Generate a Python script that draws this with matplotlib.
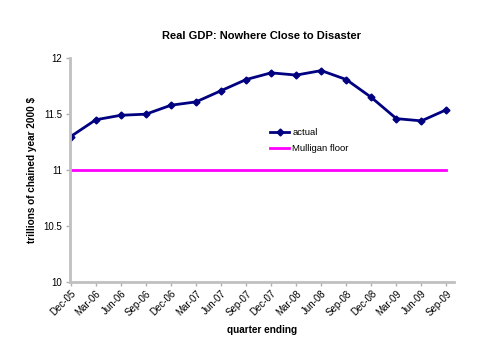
import numpy as np
import matplotlib.pyplot as plt

plt.rcParams['font.family'] = ['Liberation Sans', 'DejaVu Sans']

quarters = ["Dec-05", "Mar-06", "Jun-06", "Sep-06", "Dec-06", "Mar-07", "Jun-07", "Sep-07",
            "Dec-07", "Mar-08", "Jun-08", "Sep-08", "Dec-08", "Mar-09", "Jun-09", "Sep-09"]
actual = [11.30, 11.45, 11.49, 11.50, 11.58, 11.61, 11.71, 11.81,
          11.87, 11.85, 11.89, 11.81, 11.65, 11.46, 11.44, 11.54]
mulligan_floor = [11.0] * len(quarters)

fig = plt.figure(figsize=(5, 3.6), dpi=100)
ax = fig.add_axes([0.139, 0.2175, 0.769, 0.6205])

x = np.arange(len(quarters))
ax.plot(x, actual, color='#000080', linewidth=2, marker='D', markersize=3.5, label='actual')
ax.plot(x, mulligan_floor, color='#ff00ff', linewidth=2, label='Mulligan floor')

ax.set_xlim(-0.05, 15.3)
ax.set_ylim(10, 12)
ax.set_yticks([10, 10.5, 11, 11.5, 12])
ax.set_yticklabels(['10', '10.5', '11', '11.5', '12'])
ax.set_xticks(x)
ax.set_xticklabels(quarters, rotation=45, ha='right', rotation_mode='anchor')
ax.tick_params(axis='both', labelsize=7, color='#b0b0b0', length=3, width=1, pad=2)

for s in ['top', 'right']:
    ax.spines[s].set_visible(False)
for s in ['left', 'bottom']:
    ax.spines[s].set_color('#c0c0c0')
    ax.spines[s].set_linewidth(2)

ax.set_title('Real GDP: Nowhere Close to Disaster', fontsize=8, fontweight='bold', pad=14)
ax.set_ylabel('trillions of chained year 2000 $', fontsize=7.2, fontweight='bold', labelpad=5)
ax.set_xlabel('quarter ending', fontsize=7.2, fontweight='bold', labelpad=5)

ax.legend(loc='upper left', bbox_to_anchor=(0.5, 0.725), frameon=False, fontsize=6.8,
          handlelength=2.0, handletextpad=0.35, labelspacing=0.7)

plt.savefig('out.png', dpi=100)
